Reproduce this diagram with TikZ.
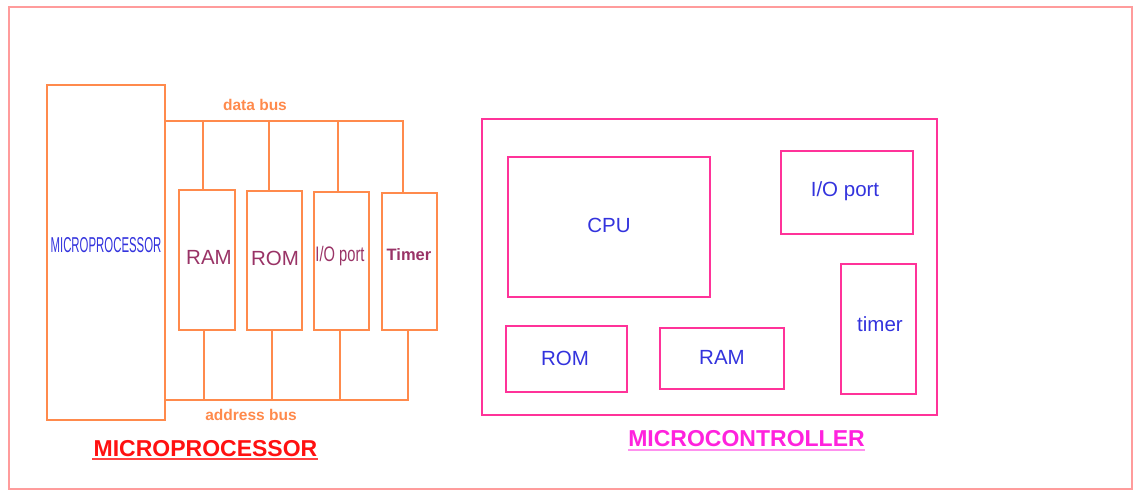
\documentclass[tikz,border=0pt]{standalone}
\usepackage{fontspec}
\setmainfont{Liberation Sans}
\definecolor{orng}{HTML}{FF8A4C}
\definecolor{pinkb}{HTML}{FF3399}
\definecolor{frame}{HTML}{FF9C9C}
\definecolor{purp}{HTML}{993366}
\definecolor{blu}{HTML}{3333DD}
\definecolor{ttlred}{HTML}{FF1111}
\definecolor{ttlmag}{HTML}{FF22DD}
\newcommand{\fs}[1]{\fontsize{#1}{#1}\selectfont}
\tikzset{
  obox/.style={draw=orng, line width=2pt, rectangle, inner sep=0pt},
  pbox/.style={draw=pinkb, line width=2.4pt, rectangle, inner sep=0pt, text=blu, font=\fs{20}},
  bus/.style={draw=orng, line width=2pt},
  plbl/.style={text=purp, inner sep=0pt},
  buslbl/.style={text=orng, font=\fs{15.5}\bfseries, inner sep=0pt},
  ttl/.style={font=\fs{23}\bfseries, inner sep=0pt},
  mclbl/.style={text=blu, font=\fs{20.5}, inner sep=0pt}
}
\begin{document}
\begin{tikzpicture}[x=1pt, y=-1pt]
\useasboundingbox (0,0) rectangle (1134,491);
\draw[frame, line width=1.6pt] (9,7) rectangle (1132,489);

% ---------- microprocessor side ----------
\node[obox, minimum width=118pt, minimum height=335pt] (mp) at (106,252.5) {};
\node[text=blu, inner sep=0pt] (mpl) at (106,245) {\scalebox{0.53}[1]{\fs{21.5}MICROPROCESSOR}};

\node[obox, minimum width=56pt, minimum height=140pt] (ram) at (207,260) {};
\node[plbl, font=\fs{20.5}] (raml) at (209,257) {RAM};
\node[obox, minimum width=55pt, minimum height=139pt] (rom) at (274.5,260.5) {};
\node[plbl, font=\fs{20.5}] (roml) at (275,258) {ROM};
\node[obox, minimum width=55pt, minimum height=138pt] (io) at (341.5,261) {};
\node[plbl] (iol) at (340,256) {\scalebox{0.7}[1]{\fs{21}I/O port}};
\node[obox, minimum width=55pt, minimum height=137pt] (tim) at (409.5,261.5) {};
\node[plbl, font=\fs{16.5}\bfseries] (timl) at (409,255) {Timer};

% data bus
\coordinate (dbL) at (165,121);
\coordinate (dbR) at (403,121);
\draw[bus] (dbL) -- (dbR) -- (403,0 |- tim.north);
\draw[bus] (203,121) -- (203,0 |- ram.north);
\draw[bus] (269,121) -- (269,0 |- rom.north);
\draw[bus] (338,121) -- (338,0 |- io.north);
\node[buslbl] (dbl) at (255,105) {data bus};

% address bus
\coordinate (abL) at (165,400);
\coordinate (abR) at (408,400);
\draw[bus] (abL) -- (abR) -- (408,0 |- tim.south);
\draw[bus] (204,400) -- (204,0 |- ram.south);
\draw[bus] (272,400) -- (272,0 |- rom.south);
\draw[bus] (340,400) -- (340,0 |- io.south);
\node[buslbl] (abl) at (251,415) {address bus};

\node[ttl, text=ttlred] (t1) at (205.5,449) {MICROPROCESSOR};
\draw[ttlred!80, line width=1.6pt] (92,459) -- (318,459);

% ---------- microcontroller side ----------
\node[pbox, minimum width=455pt, minimum height=296pt] (mc) at (709.5,267) {};
\node[pbox, minimum width=202pt, minimum height=140pt] (cpu) at (609,227) {};
\node[mclbl] at (609,225) {CPU};
\node[pbox, minimum width=132pt, minimum height=83pt] (mio) at (847,192.5) {};
\node[mclbl] at (845,191) {I/O port};
\node[pbox, minimum width=75pt, minimum height=130pt] (mtim) at (878.5,329) {};
\node[mclbl] at (880,324) {timer};
\node[pbox, minimum width=121pt, minimum height=66pt] (mrom) at (566.5,359) {};
\node[mclbl] at (565,358) {ROM};
\node[pbox, minimum width=124pt, minimum height=61pt] (mram) at (722,358.5) {};
\node[mclbl] at (722,357) {RAM};

\node[ttl, text=ttlmag] (t2) at (746.5,439) {MICROCONTROLLER};
\draw[ttlmag!50, line width=1.6pt] (628,450) -- (865,450);
\end{tikzpicture}
\end{document}
